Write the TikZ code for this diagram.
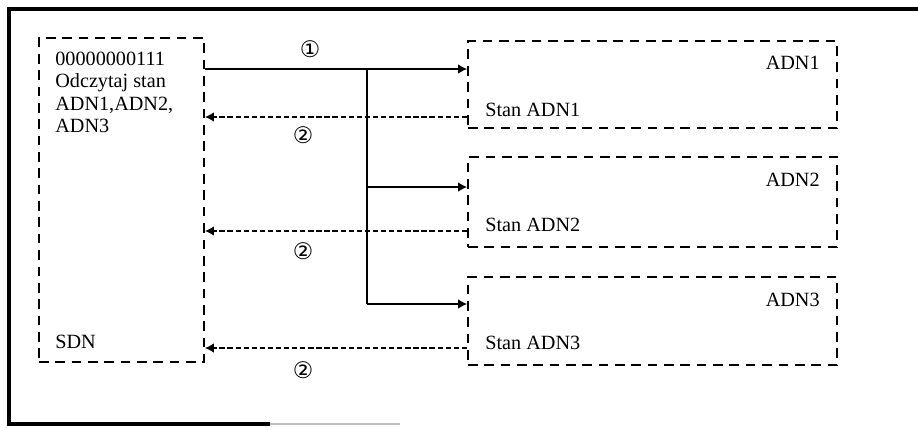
\documentclass[tikz,border=0pt]{standalone}
\usepackage{fontspec}
\setmainfont{Liberation Serif}
\newfontfamily\symfont{DejaVu Sans}
\usetikzlibrary{arrows.meta,positioning}

\begin{document}
\begin{tikzpicture}[x=0.02cm,y=-0.02cm,>=Latex,
  box/.style={draw,line width=1.1pt,dash pattern=on 5.5pt off 3.8pt,minimum width=#1},
  lbl/.style={font=\fontsize{11.5}{12.6}\selectfont,inner sep=0pt},
  num/.style={font=\symfont\fontsize{13}{14}\selectfont,inner sep=0pt},
  req/.style={-{Latex[length=1.8mm,width=1.9mm]},line width=0.7pt},
  ans/.style={-{Latex[length=1.8mm,width=1.9mm]},line width=0.7pt,dash pattern=on 3pt off 1.6pt}]
\useasboundingbox (0,0) rectangle (918,427);
% frame
\draw[line width=1.9pt] (918,9) -- (9,9) -- (9,424) -- (270,424);
\draw[line width=1.2pt,black!25] (270,424) -- (400,424);
% boxes
\node[box=3.3cm,minimum height=6.48cm] (sdn) at (121.5,200) {};
\node[box=7.38cm,minimum height=1.74cm] (adn1) at (652.5,84.5) {};
\node[box=7.38cm,minimum height=1.8cm] (adn2) at (652.5,202) {};
\node[box=7.38cm,minimum height=1.76cm] (adn3) at (652.5,321) {};
% texts
\node[lbl,anchor=north west,align=left] (cmd) at (55,52) {00000000111\\Odczytaj stan\\ADN1,ADN2,\\ADN3};
\node[lbl,anchor=west] (sdnname) at (55,342) {SDN};
\node[lbl,anchor=east] (n1) at (820,63) {ADN1};
\node[lbl,anchor=east] (n2) at (820,180) {ADN2};
\node[lbl,anchor=east] (n3) at (820,300) {ADN3};
\node[lbl,anchor=west] (s1) at (485,110) {Stan ADN1};
\node[lbl,anchor=west] (s2) at (485,225) {Stan ADN2};
\node[lbl,anchor=west] (s3) at (485,343) {Stan ADN3};
% step numbers
\node[num] (c1) at (310,49) {①};
\node[num] (c2a) at (303,135) {②};
\node[num] (c2b) at (303,251) {②};
\node[num] (c2c) at (303,370) {②};
% request
\coordinate (split) at (367,69);
\coordinate (b2) at (367,187);
\coordinate (b3) at (367,304);
\draw[req] (sdn.east |- split) -- (adn1.west |- split);
\draw[line width=0.7pt] (split) -- (b3);
\draw[req] (b2) -- (adn2.west |- b2);
\draw[req] (b3) -- (adn3.west |- b3);
% answers
\coordinate (r1) at (468,117);
\coordinate (r2) at (468,231);
\coordinate (r3) at (468,348);
\draw[ans] (adn1.west |- r1) -- (sdn.east |- r1);
\draw[ans] (adn2.west |- r2) -- (sdn.east |- r2);
\draw[ans] (adn3.west |- r3) -- (sdn.east |- r3);
\end{tikzpicture}
\end{document}
